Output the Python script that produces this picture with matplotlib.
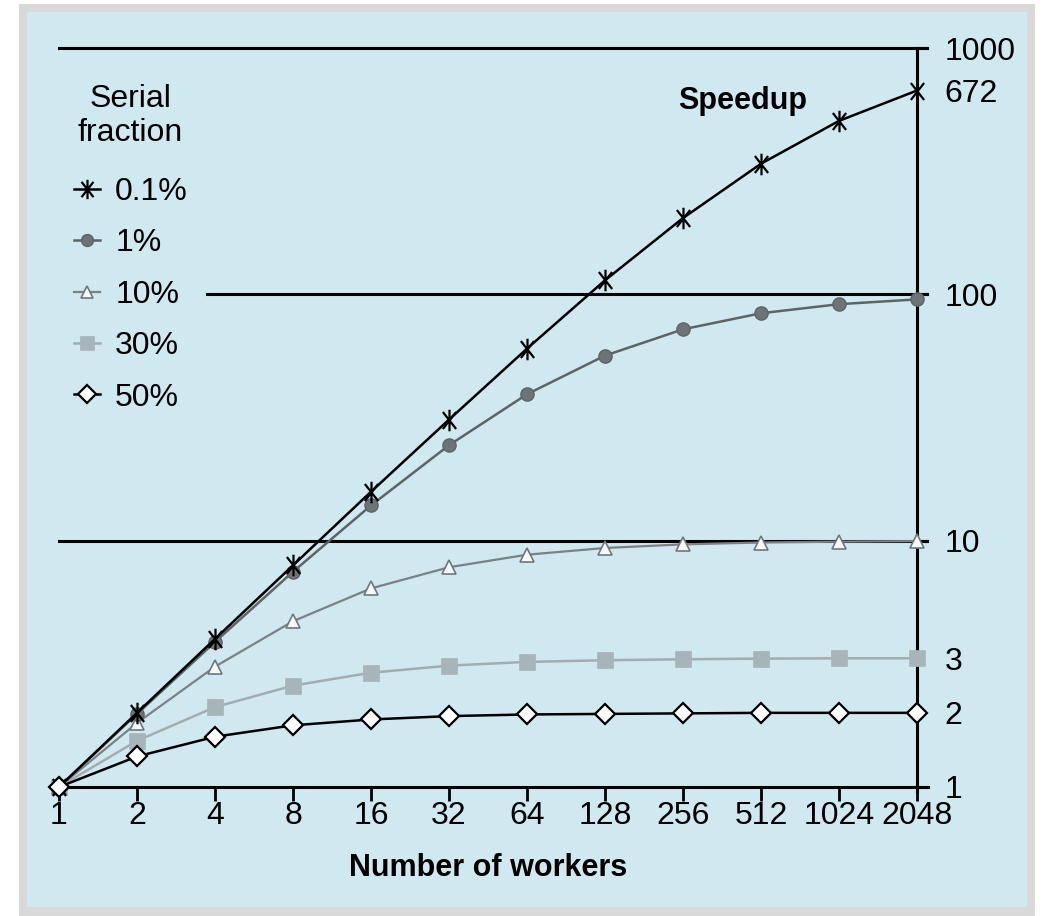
import matplotlib
matplotlib.use("Agg")
import matplotlib.pyplot as plt
from matplotlib.patches import Rectangle
from matplotlib.path import Path
import numpy as np

plt.rcParams['font.family'] = ['Liberation Sans', 'DejaVu Sans']

workers = [1, 2, 4, 8, 16, 32, 64, 128, 256, 512, 1024, 2048]
worker_labels = ['1', '2', '4', '8', '16', '32', '64', '128', '256', '512', '1024', '2048']

speedup_01 = [1, 2.0, 3.99, 7.94, 15.8, 31.0, 60.2, 114, 204, 339, 506, 672]
speedup_1 = [1, 1.98, 3.88, 7.48, 13.9, 24.4, 39.3, 56.4, 72.1, 83.8, 91.2, 95.4]
speedup_10 = [1, 1.82, 3.08, 4.71, 6.40, 7.80, 8.77, 9.34, 9.66, 9.83, 9.91, 9.96]
speedup_30 = [1, 1.54, 2.11, 2.58, 2.91, 3.11, 3.22, 3.27, 3.30, 3.32, 3.33, 3.33]
speedup_50 = [1, 1.33, 1.60, 1.78, 1.88, 1.94, 1.97, 1.98, 1.99, 2.0, 2.0, 2.0]

series_labels = ['0.1%', '1%', '10%', '30%', '50%']
ytick_values = [1, 2, 3.33, 10, 100, 672, 1000]
ytick_labels = ['1', '2', '3', '10', '100', '672', '1000']

FS = 23
FSB = 22
W, H = 1048, 916
fig = plt.figure(figsize=(W / 100, H / 100), dpi=100)
fig.patch.set_facecolor('white')
fig.patches.append(Rectangle((19 / W, 0), 1016 / W, (916 - 4) / H, transform=fig.transFigure,
                             facecolor='#d9d9d9', edgecolor='none', zorder=-10))
fig.patches.append(Rectangle((27 / W, (916 - 907) / H), 1000 / W, (907 - 12) / H, transform=fig.transFigure,
                             facecolor='#d0e8ef', edgecolor='none', zorder=-9))

ax = fig.add_axes([59 / W, (916 - 787) / H, (917 - 59) / W, (787 - 48) / H])
ax.set_facecolor('none')
ax.set_xscale('log', base=2)
ax.set_yscale('log')
ax.set_xlim(1, 2048)
ax.set_ylim(1, 1000)

# asterisk marker: vertical bar + X
ang = np.deg2rad(52)
c, s = np.cos(ang), np.sin(ang)
ast = Path([(0, -1), (0, 1), (-c, -s), (c, s), (-c, s), (c, -s)],
           [Path.MOVETO, Path.LINETO, Path.MOVETO, Path.LINETO, Path.MOVETO, Path.LINETO])

# grid lines at 1000, 100, 10
ax.axhline(1000, xmin=0, xmax=1.012, color='black', lw=2.2, clip_on=False, zorder=1)
ax.axhline(100, xmin=(207 - 59) / (917 - 59), xmax=1.012, color='black', lw=2.2, clip_on=False, zorder=1)
ax.axhline(10, xmin=0, xmax=1.012, color='black', lw=2.2, clip_on=False, zorder=1)

l1, = ax.plot(workers, speedup_01, color='black', lw=1.8, marker=ast, ms=15.5, mew=1.6,
              mfc='none', mec='black', label=series_labels[0], clip_on=False, zorder=6)
l2, = ax.plot(workers, speedup_1, color='#5e6466', lw=1.8, marker='o', ms=9.5, mfc='#6d7477',
              mec='#5e6466', mew=1, label=series_labels[1], clip_on=False, zorder=5)
l3, = ax.plot(workers, speedup_10, color='#7b8184', lw=1.6, marker='^', ms=10, mfc='#f4f8f9',
              mec='#70777a', mew=1.2, label=series_labels[2], clip_on=False, zorder=4)
l4, = ax.plot(workers, speedup_30, color='#a3adb0', lw=1.8, marker='s', ms=11.5, mfc='#a7b5ba',
              mec='#a7b5ba', mew=0.5, label=series_labels[3], clip_on=False, zorder=3)
l5, = ax.plot(workers, speedup_50, color='black', lw=1.8, marker='D', ms=10, mfc='white',
              mec='black', mew=1.6, label=series_labels[4], clip_on=False, zorder=7)

for sp in ['top', 'left']:
    ax.spines[sp].set_visible(False)
ax.spines['bottom'].set_linewidth(2.2)
ax.spines['right'].set_linewidth(2.2)
ax.spines['bottom'].set_bounds(1, 2048 * 1.1)
ax.spines['right'].set_bounds(1000, 0.95)

ax.set_xticks(workers)
ax.set_xticklabels(worker_labels)
ax.xaxis.set_minor_locator(matplotlib.ticker.NullLocator())
ax.tick_params(axis='x', which='major', direction='out', length=10, width=2, pad=0,
               labelsize=FS, colors='black')
ax.yaxis.tick_right()
ax.set_yticks(ytick_values)
ax.set_yticklabels(ytick_labels)
ax.yaxis.set_minor_locator(matplotlib.ticker.NullLocator())
ax.tick_params(axis='y', which='major', direction='out', length=0, pad=20, labelsize=FS)
for v in [1, 10, 100, 1000]:
    ax.plot([1, 1.012], [v, v], transform=ax.get_yaxis_transform(), color='black', lw=2.2, clip_on=False)

ax.set_xlabel('Number of workers', fontsize=FSB, fontweight='bold', labelpad=16)
ax.text(0.797, 0.928, 'Speedup', transform=ax.transAxes, fontsize=FSB, fontweight='bold',
        ha='center', va='center')

fig.text(130 / W, (916 - 116) / H, 'Serial\nfraction', fontsize=FS, ha='center', va='center',
         multialignment='center', linespacing=1.2)

leg = ax.legend(handles=[l1, l2, l3, l4, l5], loc='upper left',
                bbox_to_anchor=(74 / W, (916 - 177) / H), bbox_transform=fig.transFigure,
                frameon=False, fontsize=FS, handlelength=0.82,
                handletextpad=0.47, labelspacing=0.67, borderpad=0, borderaxespad=0,
                markerscale=0.9)

fig.savefig('out.png', dpi=100, facecolor=fig.get_facecolor())
